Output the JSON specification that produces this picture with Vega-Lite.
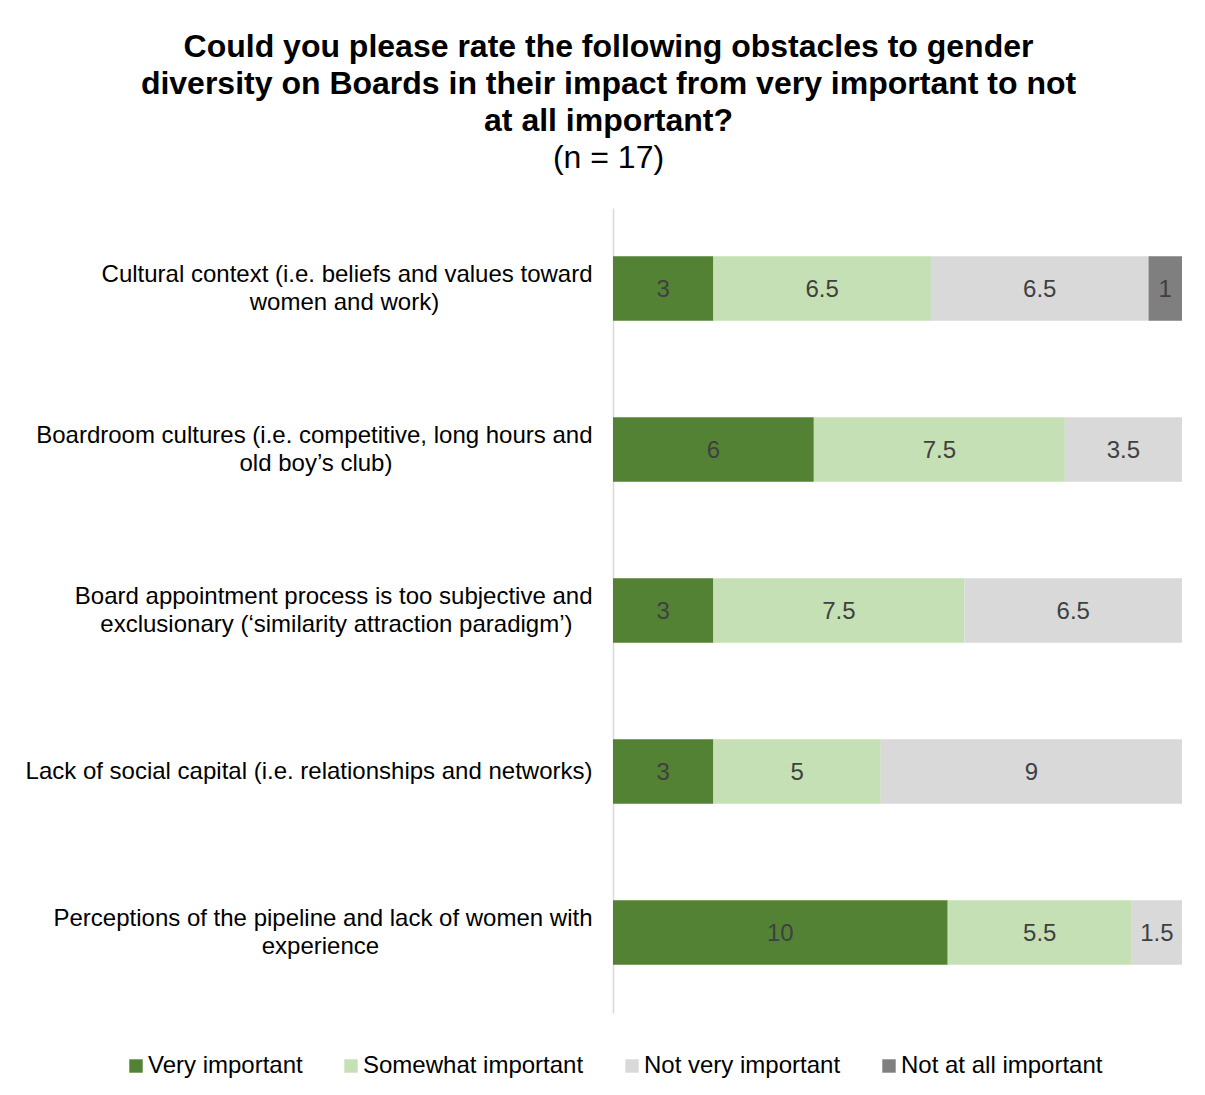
{
  "$schema": "https://vega.github.io/schema/vega-lite/v6.json",
  "width": 569,
  "height": 805,
  "autosize": {"type": "none"},
  "padding": {"left": 613, "top": 208, "right": 23, "bottom": 82},
  "background": "white",
  "title": {
    "text": ["Could you please rate the following obstacles to gender", "diversity on Boards in their impact from very important to not", "at all important?"],
    "subtitle": "(n = 17)",
    "anchor": "middle",
    "frame": "group",
    "dx": -289,
    "font": "Liberation Sans",
    "fontSize": 32,
    "fontWeight": "bold",
    "color": "black",
    "lineHeight": 37,
    "subtitleFont": "Liberation Sans",
    "subtitleFontSize": 32,
    "subtitleColor": "black",
    "subtitleLineHeight": 37,
    "subtitlePadding": 5,
    "offset": 33
  },
  "data": {
    "values": [
      {"obstacle": "Cultural context (i.e. beliefs and values toward|women and work)\u00a0\u00a0\u00a0\u00a0\u00a0\u00a0\u00a0\u00a0\u00a0\u00a0\u00a0\u00a0\u00a0\u00a0\u00a0\u00a0\u00a0\u00a0\u00a0\u00a0\u00a0\u00a0\u00a0\u200b", "category": "Very important", "value": 3},
      {"obstacle": "Cultural context (i.e. beliefs and values toward|women and work)\u00a0\u00a0\u00a0\u00a0\u00a0\u00a0\u00a0\u00a0\u00a0\u00a0\u00a0\u00a0\u00a0\u00a0\u00a0\u00a0\u00a0\u00a0\u00a0\u00a0\u00a0\u00a0\u00a0\u200b", "category": "Somewhat important", "value": 6.5},
      {"obstacle": "Cultural context (i.e. beliefs and values toward|women and work)\u00a0\u00a0\u00a0\u00a0\u00a0\u00a0\u00a0\u00a0\u00a0\u00a0\u00a0\u00a0\u00a0\u00a0\u00a0\u00a0\u00a0\u00a0\u00a0\u00a0\u00a0\u00a0\u00a0\u200b", "category": "Not very important", "value": 6.5},
      {"obstacle": "Cultural context (i.e. beliefs and values toward|women and work)\u00a0\u00a0\u00a0\u00a0\u00a0\u00a0\u00a0\u00a0\u00a0\u00a0\u00a0\u00a0\u00a0\u00a0\u00a0\u00a0\u00a0\u00a0\u00a0\u00a0\u00a0\u00a0\u00a0\u200b", "category": "Not at all important", "value": 1},
      {"obstacle": "Boardroom cultures (i.e. competitive, long hours and|old boy’s club)\u00a0\u00a0\u00a0\u00a0\u00a0\u00a0\u00a0\u00a0\u00a0\u00a0\u00a0\u00a0\u00a0\u00a0\u00a0\u00a0\u00a0\u00a0\u00a0\u00a0\u00a0\u00a0\u00a0\u00a0\u00a0\u00a0\u00a0\u00a0\u00a0\u00a0\u200b", "category": "Very important", "value": 6},
      {"obstacle": "Boardroom cultures (i.e. competitive, long hours and|old boy’s club)\u00a0\u00a0\u00a0\u00a0\u00a0\u00a0\u00a0\u00a0\u00a0\u00a0\u00a0\u00a0\u00a0\u00a0\u00a0\u00a0\u00a0\u00a0\u00a0\u00a0\u00a0\u00a0\u00a0\u00a0\u00a0\u00a0\u00a0\u00a0\u00a0\u00a0\u200b", "category": "Somewhat important", "value": 7.5},
      {"obstacle": "Boardroom cultures (i.e. competitive, long hours and|old boy’s club)\u00a0\u00a0\u00a0\u00a0\u00a0\u00a0\u00a0\u00a0\u00a0\u00a0\u00a0\u00a0\u00a0\u00a0\u00a0\u00a0\u00a0\u00a0\u00a0\u00a0\u00a0\u00a0\u00a0\u00a0\u00a0\u00a0\u00a0\u00a0\u00a0\u00a0\u200b", "category": "Not very important", "value": 3.5},
      {"obstacle": "Board appointment process is too subjective and|exclusionary (‘similarity attraction paradigm’)\u00a0\u00a0\u00a0\u200b", "category": "Very important", "value": 3},
      {"obstacle": "Board appointment process is too subjective and|exclusionary (‘similarity attraction paradigm’)\u00a0\u00a0\u00a0\u200b", "category": "Somewhat important", "value": 7.5},
      {"obstacle": "Board appointment process is too subjective and|exclusionary (‘similarity attraction paradigm’)\u00a0\u00a0\u00a0\u200b", "category": "Not very important", "value": 6.5},
      {"obstacle": "Lack of social capital (i.e. relationships and networks)", "category": "Very important", "value": 3},
      {"obstacle": "Lack of social capital (i.e. relationships and networks)", "category": "Somewhat important", "value": 5},
      {"obstacle": "Lack of social capital (i.e. relationships and networks)", "category": "Not very important", "value": 9},
      {"obstacle": "Perceptions of the pipeline and lack of women with|experience\u00a0\u00a0\u00a0\u00a0\u00a0\u00a0\u00a0\u00a0\u00a0\u00a0\u00a0\u00a0\u00a0\u00a0\u00a0\u00a0\u00a0\u00a0\u00a0\u00a0\u00a0\u00a0\u00a0\u00a0\u00a0\u00a0\u00a0\u00a0\u00a0\u00a0\u00a0\u00a0\u200b", "category": "Very important", "value": 10},
      {"obstacle": "Perceptions of the pipeline and lack of women with|experience\u00a0\u00a0\u00a0\u00a0\u00a0\u00a0\u00a0\u00a0\u00a0\u00a0\u00a0\u00a0\u00a0\u00a0\u00a0\u00a0\u00a0\u00a0\u00a0\u00a0\u00a0\u00a0\u00a0\u00a0\u00a0\u00a0\u00a0\u00a0\u00a0\u00a0\u00a0\u00a0\u200b", "category": "Somewhat important", "value": 5.5},
      {"obstacle": "Perceptions of the pipeline and lack of women with|experience\u00a0\u00a0\u00a0\u00a0\u00a0\u00a0\u00a0\u00a0\u00a0\u00a0\u00a0\u00a0\u00a0\u00a0\u00a0\u00a0\u00a0\u00a0\u00a0\u00a0\u00a0\u00a0\u00a0\u00a0\u00a0\u00a0\u00a0\u00a0\u00a0\u00a0\u00a0\u00a0\u200b", "category": "Not very important", "value": 1.5}
    ]
  },
  "transform": [
    {"stack": "value", "groupby": ["obstacle"], "sort": [{"field": "category", "order": "descending"}], "as": ["v0", "v1"]},
    {"calculate": "(datum.v0 + datum.v1) / 2", "as": "vmid"}
  ],
  "encoding": {
    "y": {
      "field": "obstacle",
      "type": "nominal",
      "sort": null,
      "scale": {"paddingInner": 0.6, "paddingOuter": 0.3},
      "axis": {
        "title": null,
        "ticks": false,
        "grid": false,
        "domainColor": "#d9d9d9",
        "domainWidth": 1.5,
        "labelExpr": "split(datum.label, '|')",
        "labelOffset": {"condition": {"test": "indexof(datum.value, '|') >= 0", "value": -14}, "value": 0},
        "labelFont": "Liberation Sans",
        "labelFontSize": 24,
        "labelColor": "black",
        "labelPadding": 21,
        "labelLimit": 0,
        "labelLineHeight": 28
      }
    }
  },
  "layer": [
    {
      "mark": {"type": "bar"},
      "encoding": {
        "x": {"field": "v0", "type": "quantitative", "scale": {"domain": [0, 17], "nice": false, "zero": true}, "axis": null},
        "x2": {"field": "v1"},
        "color": {
          "field": "category",
          "type": "nominal",
          "scale": {
            "domain": ["Very important", "Somewhat important", "Not very important", "Not at all important"],
            "range": ["#548235", "#c5e0b4", "#d9d9d9", "#7f7f7f"]
          },
          "legend": {
            "orient": "none",
            "legendX": -489,
            "legendY": 846,
            "direction": "horizontal",
            "columns": 4,
            "title": null,
            "symbolType": "square",
            "symbolSize": 180,
            "symbolStrokeWidth": 0,
            "symbolOpacity": 1,
            "labelFont": "Liberation Sans",
            "labelFontSize": 24,
            "labelColor": "black",
            "labelOffset": 0,
            "columnPadding": 36,
            "labelLimit": 0
          }
        }
      }
    },
    {
      "mark": {"type": "text", "font": "Liberation Sans", "fontSize": 24, "color": "#404040", "align": "center", "baseline": "middle", "dy": 1},
      "encoding": {
        "x": {"field": "vmid", "type": "quantitative"},
        "text": {"field": "value", "type": "quantitative"}
      }
    }
  ],
  "config": {"view": {"stroke": null}}
}
